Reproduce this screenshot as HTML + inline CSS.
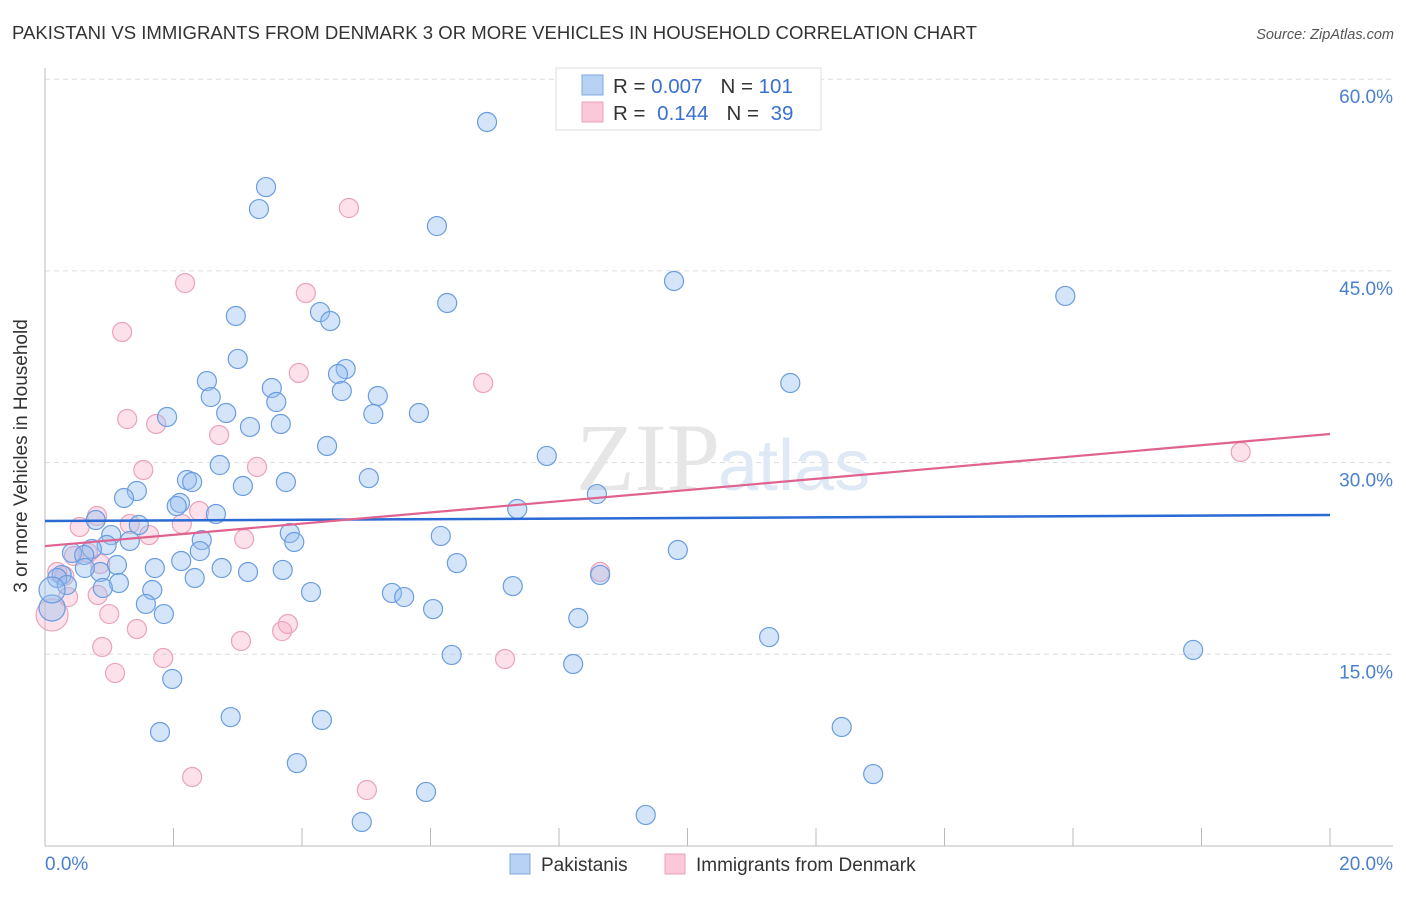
<!DOCTYPE html>
<html><head><meta charset="utf-8"><style>
body{margin:0;background:#fff;font-family:"Liberation Sans",sans-serif}
</style></head><body>
<svg width="1406" height="892" viewBox="0 0 1406 892" xmlns="http://www.w3.org/2000/svg">
<text x="12" y="39" font-size="18.5" fill="#333" textLength="965" lengthAdjust="spacingAndGlyphs">PAKISTANI VS IMMIGRANTS FROM DENMARK 3 OR MORE VEHICLES IN HOUSEHOLD CORRELATION CHART</text>
<text x="1394" y="39" font-size="14.5" fill="#555" font-style="italic" text-anchor="end">Source: ZipAtlas.com</text>
<g id="grid"></g>
<text x="720" y="490" font-size="96" font-family="Liberation Serif" fill="#e6e6e6" text-anchor="end">ZIP</text>
<text x="718" y="490" font-size="72" fill="#dfe8f5">atlas</text>
<line x1="45" y1="68" x2="45" y2="846" stroke="#bbb"/>
<line x1="45" y1="846" x2="1393" y2="846" stroke="#bbb"/>
<g id="ticks"></g>
<g id="pts"></g>
<g id="trend"></g>
<text x="27" y="456" font-size="19" fill="#333" text-anchor="middle" transform="rotate(-90 27 456)">3 or more Vehicles in Household</text>
<text x="45" y="870" font-size="19" fill="#4a80d0">0.0%</text>
<text x="1393" y="870" font-size="19" fill="#4a80d0" text-anchor="end">20.0%</text>
<g>
<rect x="556" y="68" width="265" height="62" fill="#fff" stroke="#ddd"/>
<rect x="582" y="75" width="21" height="20" fill="#b8d2f5" stroke="#7fa8e0"/>
<rect x="582" y="102" width="21" height="20" fill="#fac8d8" stroke="#eea0b8"/>
<text x="613" y="93" font-size="20.5" fill="#333">R = <tspan fill="#3a70d0">0.007</tspan><tspan dx="18">N = </tspan><tspan fill="#3a70d0">101</tspan></text>
<text x="613" y="120" font-size="20.5" fill="#333">R = <tspan dx="6" fill="#3a70d0">0.144</tspan><tspan dx="18">N = </tspan><tspan dx="6" fill="#3a70d0">39</tspan></text>
</g>
<g>
<rect x="510" y="854" width="20" height="20" fill="#b8d2f5" stroke="#7fa8e0"/>
<text x="541" y="871" font-size="19" fill="#333">Pakistanis</text>
<rect x="665" y="854" width="20" height="20" fill="#fac8d8" stroke="#eea0b8"/>
<text x="696" y="871" font-size="19" fill="#333">Immigrants from Denmark</text>
</g>
</svg>
<script>
const yTicks=[15,30,45,60];
const yTickLabels=["15.0%","30.0%","45.0%","60.0%"];
const xTicks=[0,2,4,6,8,10,12,14,16,18,20];
const blueX=[6.88,3.44,3.33,6.10,9.79,15.88,6.26,2.97,4.28,4.44,3.00,4.68,4.56,2.52,3.53,11.60,4.62,5.18,2.58,3.60,1.90,2.82,5.11,5.82,3.19,3.67,4.39,7.81,2.72,5.04,2.21,2.29,3.75,3.08,1.43,1.23,8.59,2.10,2.05,7.35,2.66,0.79,1.46,3.81,6.16,1.03,1.32,2.44,3.88,0.96,0.73,0.42,9.85,0.61,2.41,2.12,6.41,1.12,1.71,2.75,3.70,3.16,0.86,0.62,0.26,0.19,2.33,1.15,0.34,0.90,1.67,7.28,4.14,5.40,5.59,1.57,1.85,6.04,8.30,0.11,8.64,11.27,17.87,6.33,8.22,1.98,2.89,4.31,12.40,1.79,3.92,12.89,5.93,4.93,9.35,0.11];
const blueY=[56.65,51.56,49.84,48.51,44.21,43.04,42.49,41.47,41.78,41.08,38.11,37.32,36.93,36.38,35.84,36.23,35.60,35.21,35.13,34.74,33.57,33.88,33.80,33.88,32.79,33.02,31.30,30.52,29.81,28.79,28.64,28.48,28.48,28.17,27.78,27.23,27.54,26.84,26.60,26.37,25.98,25.51,25.12,24.49,24.26,24.33,23.87,23.94,23.79,23.55,23.24,22.93,23.16,22.77,23.08,22.30,22.14,21.99,21.75,21.75,21.60,21.44,21.44,21.75,21.21,20.97,20.97,20.58,20.42,20.19,20.03,20.34,19.87,19.80,19.48,18.94,18.15,18.54,17.84,18.62,21.21,16.35,15.34,14.95,14.24,13.07,10.09,9.86,9.31,8.92,6.49,5.63,4.23,1.88,2.43,20.03];
const pinkX=[4.73,2.18,4.06,1.20,3.95,6.82,1.28,1.73,2.71,3.30,1.53,2.40,0.81,2.13,0.54,1.32,1.62,3.10,0.67,0.45,0.86,0.19,8.64,0.36,1.00,0.11,1.43,3.78,3.69,3.05,0.89,1.84,7.16,1.09,2.29,5.01,18.61,0.82,0.30];
const pinkY=[49.92,44.05,43.27,40.22,37.01,36.23,33.41,33.02,32.16,29.66,29.42,26.21,25.82,25.20,24.96,25.20,24.33,24.02,22.93,22.69,22.07,21.44,21.44,19.48,18.15,18.08,16.98,17.37,16.82,16.04,15.57,14.71,14.63,13.54,5.40,4.38,30.83,19.64,21.13];
const blueTrend=[25.43,25.90];
const pinkTrend=[23.47,32.24];
const NS="http://www.w3.org/2000/svg";
const sx=v=>45+v*64.25;
const sy=v=>846-v*12.78;
function mk(tag,attrs,parent){const e=document.createElementNS(NS,tag);for(const k in attrs)e.setAttribute(k,attrs[k]);document.getElementById(parent).appendChild(e);return e;}
yTicks.forEach((t,i)=>{
 const l=mk('line',{x1:45,x2:1393,y1:sy(t),y2:sy(t),stroke:'#ddd','stroke-dasharray':'5,4'},'grid');
 
 
 const tx=mk('text',{x:1393,y:sy(t)+24,'font-size':19,fill:'#4a80d0','text-anchor':'end'},'grid');
 tx.textContent=yTickLabels[i];
 
 
});
xTicks.forEach(t=>{
 const l=mk('line',{x1:sx(t),x2:sx(t),y1:828,y2:846,stroke:'#bbb'},'ticks');
 
 
});
function pts(X,Y,fill,stroke,name){
 X.forEach((x,i)=>{
  const big=(x<0.15)?(name==='pink-point'?16:13):9.5;
  const c=mk('circle',{cx:sx(x),cy:sy(Y[i]),r:big,fill:fill,stroke:stroke,'stroke-width':1.2},'pts');
  
  
 });
}
pts(pinkX,pinkY,'rgba(245,170,195,0.35)','#eba2bb','pink-point');
pts(blueX,blueY,'rgba(150,190,240,0.4)','#6a9de0','blue-point');
const bl=mk('line',{x1:sx(0),x2:sx(20),y1:sy(blueTrend[0]),y2:sy(blueTrend[1]),stroke:'#2a6ad4','stroke-width':2.5},'trend');


const pl=mk('line',{x1:sx(0),x2:sx(20),y1:sy(pinkTrend[0]),y2:sy(pinkTrend[1]),stroke:'#e0628f','stroke-width':2.2},'trend');


</script>
</body></html>
